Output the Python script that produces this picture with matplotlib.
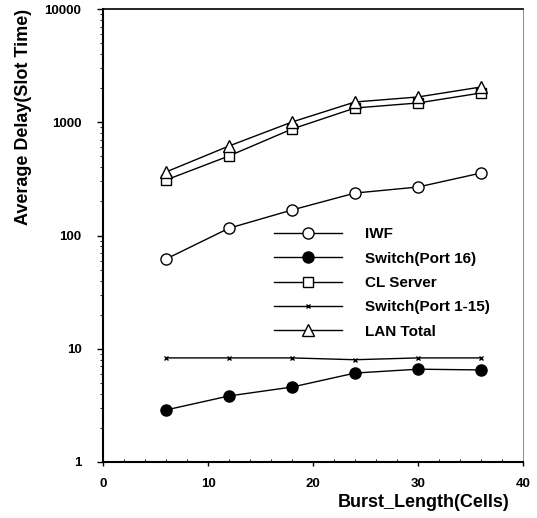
import numpy as np
import matplotlib.pyplot as plt
from matplotlib.ticker import LogLocator, MultipleLocator, FixedLocator

plt.rcParams['font.family'] = ['Liberation Sans', 'DejaVu Sans']

# burst length (cells)
burst = [6, 12, 18, 24, 30, 36]

# average delay in slot times
iwf = [62, 116, 168, 237, 268, 356]
switch_16 = [2.88, 3.83, 4.59, 6.1, 6.6, 6.5]
cl_server = [309, 504, 871, 1336, 1480, 1813]
switch_1_15 = [8.3, 8.3, 8.3, 8.0, 8.3, 8.3]
lan_total = [364, 617, 1005, 1510, 1672, 2048]

labels = ['IWF', 'Switch(Port 16)', 'CL Server', 'Switch(Port 1-15)', 'LAN Total']

fig = plt.figure(figsize=(5.37, 5.18), dpi=100)
# frame: left 103px, right 523px, top 9px, bottom 462px
ax = fig.add_axes([103/537, 56/518, 420/537, 453/518])

lw = 1.0
ax.plot(burst, iwf, color='black', lw=lw, marker='o', ms=8,
        mfc='white', mec='black', mew=1.0, label=labels[0])
ax.plot(burst, switch_16, color='black', lw=lw, marker='o', ms=8,
        mfc='black', mec='black', label=labels[1])
ax.plot(burst, cl_server, color='black', lw=lw, marker='s', ms=7.5,
        mfc='white', mec='black', mew=1.0, label=labels[2])
ax.plot(burst, switch_1_15, color='black', lw=lw, marker='x', ms=3.5,
        mec='black', mew=1.0, label=labels[3])
ax.plot(burst, lan_total, color='black', lw=lw, marker='^', ms=9,
        mfc='white', mec='black', mew=1.0, label=labels[4])

ax.set_yscale('log')
ax.set_ylim(1, 10000)
ax.set_xlim(0, 40)
ax.yaxis.set_major_locator(FixedLocator([1, 10, 100, 1000, 10000]))
ax.yaxis.set_minor_locator(LogLocator(base=10, subs=np.arange(2, 10)))
ax.set_yticklabels(['1', '10', '100', '1000', '10000'])
ax.xaxis.set_major_locator(MultipleLocator(10))
ax.xaxis.set_minor_locator(MultipleLocator(2))

ax.tick_params(axis='y', which='major', direction='out', length=4,
               width=1.0, labelsize=9.5, pad=11.5)
ax.tick_params(axis='y', which='minor', direction='out', length=2.5, width=0.6)
ax.tick_params(axis='x', which='major', direction='out', length=3,
               width=1.0, labelsize=9.5, pad=8.5)
ax.tick_params(axis='x', which='minor', direction='in', length=2, width=0.6)
for lab in ax.get_xticklabels() + ax.get_yticklabels():
    lab.set_fontweight('bold')

ax.spines['left'].set_linewidth(1.5)
ax.spines['bottom'].set_linewidth(1.5)
ax.spines['top'].set_linewidth(1.2)
ax.spines['right'].set_linewidth(0.6)
ax.spines['right'].set_color('#777777')

ax.set_xlabel('Burst_Length(Cells)', fontsize=13, fontweight='bold', loc='right')
ax.xaxis.set_label_coords(0.969, -0.07)
ax.set_ylabel('Average Delay(Slot Time)', fontsize=13, fontweight='bold', loc='top')
ax.yaxis.set_label_coords(-0.168, 1.0)

leg = ax.legend(loc='upper left', bbox_to_anchor=(0.393, 0.532), frameon=False,
                handlelength=4.45, handletextpad=1.5, labelspacing=0.68,
                prop={'size': 11, 'weight': 'bold'}, borderaxespad=0)

fig.savefig('out.png', dpi=100)
